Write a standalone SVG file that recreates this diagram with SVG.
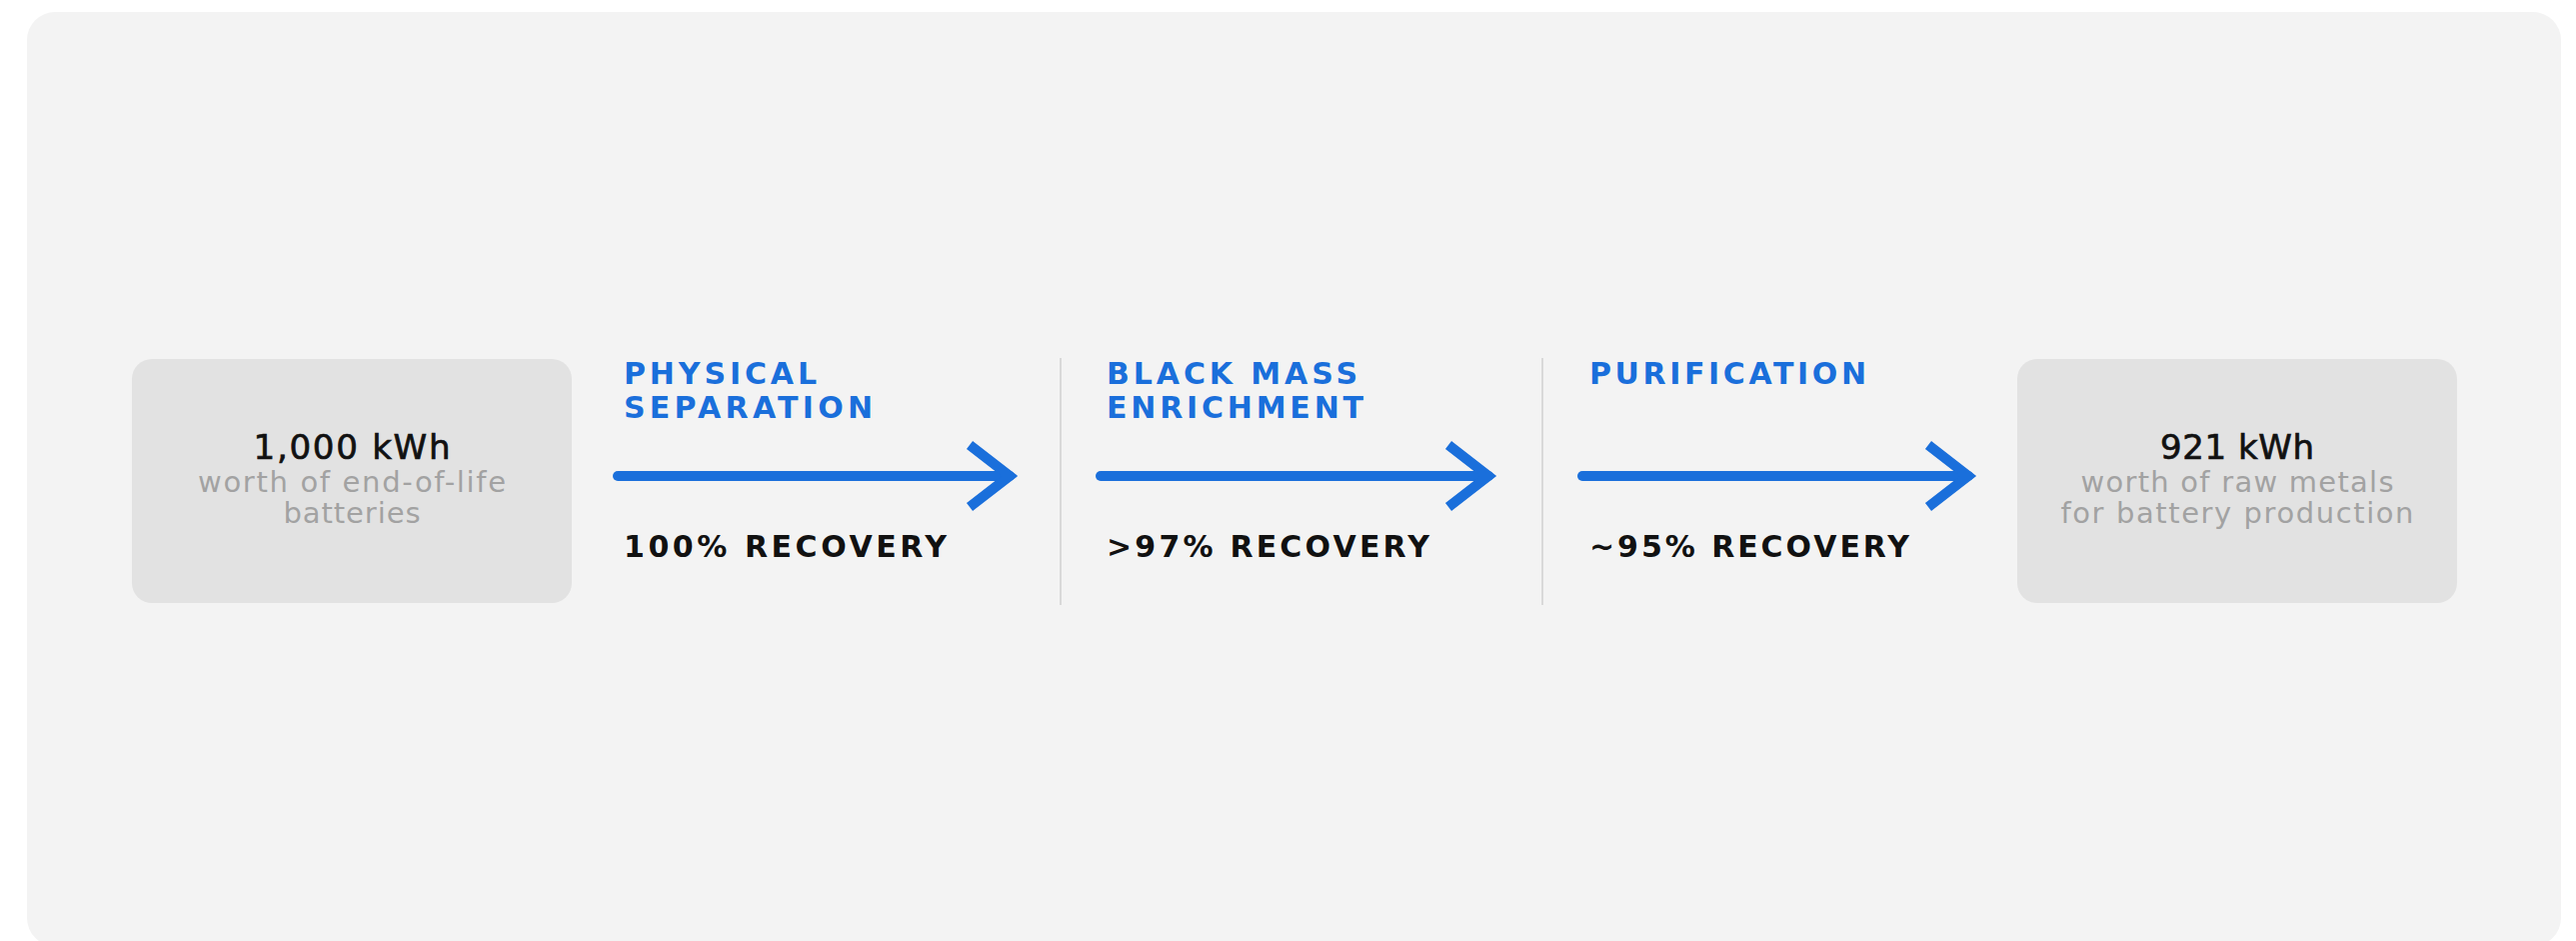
<svg xmlns="http://www.w3.org/2000/svg" width="2577" height="941" viewBox="0 0 2577 941">
<style>
.panel{fill:#f3f3f3}
.box{fill:#e2e2e2}
.big{font-family:"DejaVu Sans","Liberation Sans",sans-serif;font-size:34px;font-weight:400;fill:#111;stroke:#111;stroke-width:0.7;text-anchor:middle}
.sub{font-family:"DejaVu Sans","Liberation Sans",sans-serif;font-size:29px;font-weight:400;fill:#a2a2a2;text-anchor:middle}
.head{font-family:"DejaVu Sans","Liberation Sans",sans-serif;font-size:30px;font-weight:700;fill:#1a6fdb}
.rec{font-family:"DejaVu Sans","Liberation Sans",sans-serif;font-size:30px;font-weight:700;fill:#111}
.arrow{stroke:#1a6fdb;stroke-width:10;stroke-linecap:round;fill:none}
.div{stroke:#d9d9d9;stroke-width:2}
</style>
<defs>
<marker id="ah" markerUnits="userSpaceOnUse" viewBox="-50 -40 60 80" refX="0" refY="0" markerWidth="60" markerHeight="80" orient="auto" overflow="visible">
<path d="M-40,-31 L0,0 L-40,31" fill="none" stroke="#1a6fdb" stroke-width="10" stroke-linejoin="miter" stroke-linecap="butt"/>
</marker>
</defs>
<rect width="2577" height="941" fill="#ffffff"/>
<rect class="panel" x="27" y="12" width="2535" height="934" rx="28"/>

<g id="node-input">
<rect class="box" x="132" y="359" width="440" height="244" rx="20"/>
<text class="big" x="352" y="459" textLength="197" lengthAdjust="spacing">1,000 kWh</text>
<text class="sub" x="352" y="492" textLength="308" lengthAdjust="spacing">worth of end-of-life</text>
<text class="sub" x="352" y="523" textLength="137" lengthAdjust="spacing">batteries</text>
</g>

<g id="node-output">
<rect class="box" x="2018" y="359" width="440" height="244" rx="20"/>
<text class="big" x="2238" y="459" textLength="154" lengthAdjust="spacing">921 kWh</text>
<text class="sub" x="2238" y="492" textLength="313" lengthAdjust="spacing">worth of raw metals</text>
<text class="sub" x="2238" y="523" textLength="353" lengthAdjust="spacing">for battery production</text>
</g>

<g id="step-physical-separation">
<text class="head" x="624" y="384" textLength="193" lengthAdjust="spacing">PHYSICAL</text>
<text class="head" x="624" y="418" textLength="249" lengthAdjust="spacing">SEPARATION</text>
<text class="rec" x="624" y="557" textLength="323" lengthAdjust="spacing">100% RECOVERY</text>
</g>

<g id="step-black-mass">
<text class="head" x="1107" y="384" textLength="251" lengthAdjust="spacing">BLACK MASS</text>
<text class="head" x="1107" y="418" textLength="257" lengthAdjust="spacing">ENRICHMENT</text>
<text class="rec" x="1107" y="557" textLength="323" lengthAdjust="spacing">&gt;97% RECOVERY</text>
</g>

<g id="step-purification">
<text class="head" x="1590" y="384" textLength="277" lengthAdjust="spacing">PURIFICATION</text>
<text class="rec" x="1590" y="557" textLength="320" lengthAdjust="spacing">~95% RECOVERY</text>
</g>

<g id="dividers">
<line class="div" x1="1061" y1="358" x2="1061" y2="605"/>
<line class="div" x1="1543" y1="358" x2="1543" y2="605"/>
</g>

<g id="connectors">
<line class="arrow" x1="618" y1="476" x2="1010" y2="476" marker-end="url(#ah)"/>
<line class="arrow" x1="1101" y1="476" x2="1489" y2="476" marker-end="url(#ah)"/>
<line class="arrow" x1="1583" y1="476" x2="1969" y2="476" marker-end="url(#ah)"/>
</g>
</svg>
